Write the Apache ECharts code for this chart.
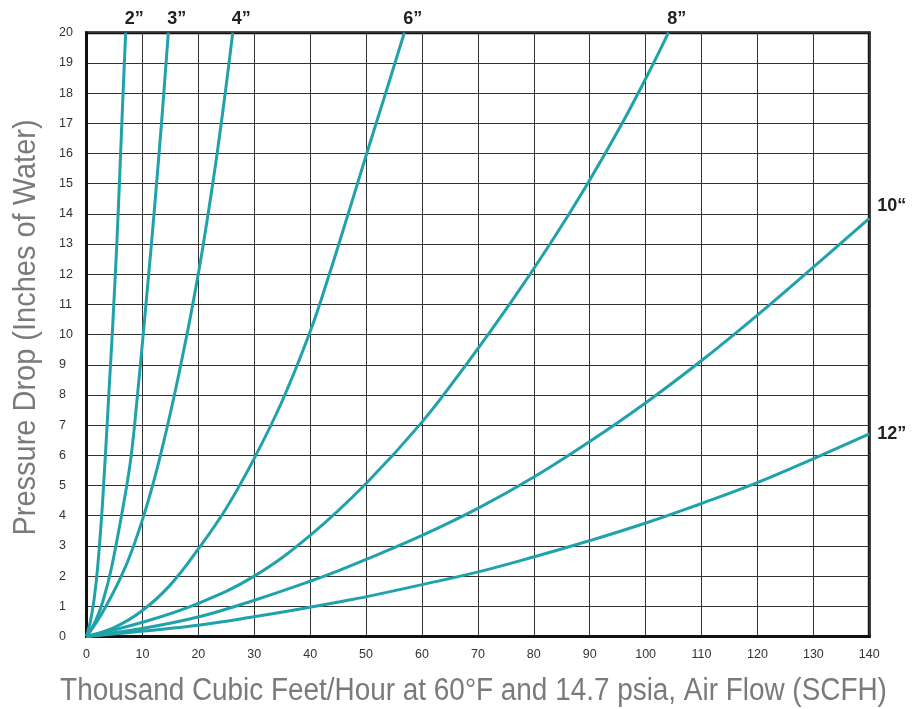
<!DOCTYPE html>
<html>
<head>
<meta charset="utf-8">
<script src="https://cdn.jsdelivr.net/npm/echarts@6/dist/echarts.min.js"></script>
<style>html,body{margin:0;padding:0;background:#fff}#c{width:920px;height:709px}</style>
</head>
<body>
<div id="c"></div>
<script>
// Air flow (thousand SCFH) vs pressure drop (inches of water) per pipe size
const pipeNames = ['2\u201D', '3\u201D', '4\u201D', '6\u201D', '8\u201D', '10\u201C', '12\u201D'];

const pipe2 = [[0,0],[0.75,0.55],[1.34,1.21],[2.0,2.31],[2.9,4.52],[3.93,7.83],[4.6,10],[4.88,11],[5.42,13],[5.88,15],[6.32,17],[6.77,19],[7.01,20]];
const pipe3 = [[0,0],[1.7,0.55],[3.0,1.21],[4.51,2.31],[6.76,4.52],[8.0,6],[9.12,8],[10.14,10],[10.63,11],[11.61,13],[12.53,15],[13.41,17],[14.23,19],[14.63,20]];
const pipe4 = [[0,0],[1.88,0.5],[3.48,1],[6.23,2],[8.43,3],[11.05,4.5],[13.22,6],[15.72,8],[17.96,10],[19.0,11],[19.98,12],[20.9,13],[22.58,15],[24.1,17],[25.49,19],[26.15,20]];
const pipe6 = [[0,0],[5,0.3],[10,0.86],[15,1.71],[20,2.9],[25,4.25],[30,5.9],[35,7.8],[40,10.1],[43.43,12],[46.8,14],[50.12,16],[53.5,18],[56.84,20]];
const pipe8 = [[0,0],[10,0.47],[20,1.1],[30,2.0],[40,3.35],[50,5.07],[60,7.1],[67.88,9],[75.65,11],[82.9,13],[89.61,15],[95.8,17],[101.44,19],[104.06,20]];
const pipe10 = [[0,0],[10.16,0.27],[20.3,0.66],[30.14,1.21],[39.97,1.83],[45.34,2.2],[50.12,2.56],[59.83,3.33],[70.08,4.25],[80.09,5.29],[89.93,6.45],[99.85,7.72],[109.73,9.1],[119.62,10.59],[129.53,12.16],[140,13.85]];
const pipe12 = [[0,0],[10.16,0.18],[20.3,0.38],[30.14,0.66],[39.97,0.97],[45.34,1.15],[50.12,1.32],[59.83,1.71],[70.08,2.14],[80.09,2.64],[89.93,3.17],[99.9,3.75],[109.73,4.39],[119.62,5.07],[129.53,5.85],[140,6.71]];

const xTicks = [0,10,20,30,40,50,60,70,80,90,100,110,120,130,140];
const yTicks = [0,1,2,3,4,5,6,7,8,9,10,11,12,13,14,15,16,17,18,19,20];

const xTitle = 'Thousand Cubic Feet/Hour at 60\u00B0F and 14.7 psia, Air Flow (SCFH)';
const yTitle = 'Pressure Drop (Inches of Water)';

const allData = [pipe2, pipe3, pipe4, pipe6, pipe8, pipe10, pipe12];
const labelOffsets = [[-9,-14],[-9,-14],[-9,-14],[-9,-14],[-9,-14],[0,-12],[0,0]];

const chart = echarts.init(document.getElementById('c'), null, {renderer:'canvas'});
const series = allData.map((d, i) => ({
  type:'line', name: pipeNames[i], data: d, smooth:0.4,
  showSymbol:false, symbol:'none', clip:false,
  lineStyle:{color:'#20a2ab', width:3}, z:5,
  endLabel:{show:true, formatter: pipeNames[i], distance:8, offset: labelOffsets[i],
    color:'#222', fontWeight:'bold', fontSize:18, fontFamily:'Liberation Sans, Arial, sans-serif'}
}));

const titleFont = 'Liberation Sans, Arial, sans-serif';

chart.setOption({
  animation:false,
  backgroundColor:'#fff',
  grid:{left:86.5, right:50.7, top:32.7, bottom:72.5, show:true, borderColor:'#111', borderWidth:3,
    backgroundColor:'transparent', containLabel:false, outerBoundsMode:'none'},
  xAxis:{
    type:'value', min:xTicks[0], max:xTicks[xTicks.length-1], interval:10,
    axisLine:{show:true, lineStyle:{color:'#111', width:3}},
    axisTick:{show:false},
    axisLabel:{fontSize:12.5, color:'#333', margin:12, fontFamily:'Liberation Sans, Arial, sans-serif'},
    splitLine:{show:true, lineStyle:{color:'#333', width:1}}
  },
  yAxis:{
    type:'value', min:yTicks[0], max:yTicks[yTicks.length-1], interval:1,
    axisLine:{show:true, lineStyle:{color:'#111', width:3}},
    axisTick:{show:false},
    axisLabel:{fontSize:12.5, color:'#333', margin:27.5, align:'left', fontFamily:'Liberation Sans, Arial, sans-serif'},
    splitLine:{show:true, lineStyle:{color:'#333', width:1}}
  },
  graphic:[
    {type:'text', x:473.5, y:691, scaleX:0.9, silent:true,
      style:{text:xTitle, fill:'#7a7a7a', font:'31px ' + titleFont, align:'center', verticalAlign:'middle'}},
    {type:'text', x:26, y:327.5, rotation:Math.PI/2, scaleX:0.935, silent:true,
      style:{text:yTitle, fill:'#7a7a7a', font:'31px ' + titleFont, align:'center', verticalAlign:'middle'}}
  ],
  series
});
</script>
</body>
</html>
